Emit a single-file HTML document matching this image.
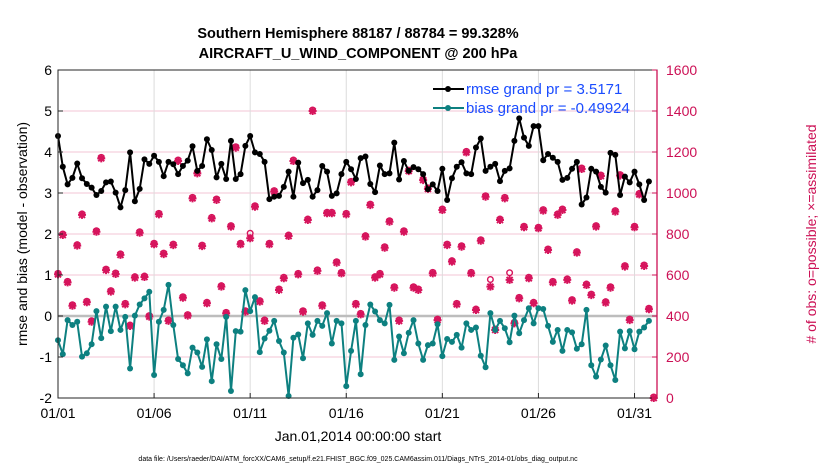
<!DOCTYPE html>
<html><head><meta charset="utf-8"><style>
body{margin:0;background:#fff;width:830px;height:470px;overflow:hidden;font-family:"Liberation Sans",sans-serif}
</style></head><body>
<svg id="chart" width="830" height="470" xmlns="http://www.w3.org/2000/svg" font-family="Liberation Sans, sans-serif">
<text x="358" y="38" text-anchor="middle" font-size="14.5" font-weight="bold">Southern Hemisphere 88187 / 88784 = 99.328%</text>
<text x="358" y="58" text-anchor="middle" font-size="14.5" font-weight="bold">AIRCRAFT_U_WIND_COMPONENT @ 200 hPa</text>
<g id="grid"></g>
<g id="marks"></g>
<g id="axes"></g>
<text transform="translate(27,234) rotate(-90)" text-anchor="middle" font-size="14">rmse and bias (model - observation)</text>
<text transform="translate(816,234) rotate(-90)" text-anchor="middle" font-size="14" fill="#cc1055"># of obs: o=possible; ×=assimilated</text>
<text x="358" y="441" text-anchor="middle" font-size="14">Jan.01,2014 00:00:00 start</text>
<text x="358" y="461" text-anchor="middle" font-size="7">data file: /Users/raeder/DAI/ATM_forcXX/CAM6_setup/f.e21.FHIST_BGC.f09_025.CAM6assim.011/Diags_NTrS_2014-01/obs_diag_output.nc</text>
<g>
<line x1="433" y1="89" x2="464" y2="89" stroke="#000" stroke-width="2"/><circle cx="448" cy="89" r="3" fill="#000"/>
<text x="466" y="94" font-size="15" fill="#1a4cff">rmse grand pr = 3.5171</text>
<line x1="433" y1="108" x2="464" y2="108" stroke="#0d8080" stroke-width="2"/><circle cx="448" cy="108" r="3" fill="#0d8080"/>
<text x="466" y="113" font-size="15" fill="#1a4cff">bias grand pr = -0.49924</text>
</g>
</svg>
<script>
const rmse=[4.39,3.64,3.21,3.37,3.72,3.36,3.22,3.13,2.95,3.05,3.26,3.28,3.01,2.65,3.07,3.99,2.80,3.10,3.82,3.71,3.91,3.76,3.41,3.76,3.70,3.46,3.66,3.79,4.14,3.54,3.66,4.31,4.05,3.38,3.71,3.34,4.27,3.34,3.46,4.15,4.39,3.99,3.95,3.76,2.85,2.91,2.93,3.15,3.52,2.91,3.74,3.24,3.32,2.91,3.07,3.66,3.52,2.93,2.99,3.46,3.76,3.58,3.34,3.85,3.89,3.22,3.02,3.67,3.46,3.48,4.23,3.33,3.78,3.54,3.63,3.58,3.46,3.09,3.21,3.05,3.59,2.83,3.36,3.64,3.75,3.48,3.46,4.11,4.33,3.54,3.64,3.71,3.29,3.54,3.60,4.27,4.82,4.35,4.15,4.63,4.63,3.80,3.95,3.86,3.76,3.32,3.37,3.59,3.76,2.72,2.89,3.59,3.52,3.15,3.01,3.98,3.93,2.95,3.40,3.26,3.52,3.21,2.83,3.28,null];
const bias=[-0.59,-0.93,-0.10,-0.22,-0.14,-0.99,-0.91,-0.69,0.12,-0.54,0.23,-0.37,0.23,-0.34,-0.02,-1.28,0.01,0.28,0.43,0.59,-1.44,-0.14,0.15,0.76,-0.22,-1.05,-1.20,-1.40,-0.77,-0.89,-1.24,-0.57,-1.59,-0.69,-1.05,-0.02,-1.83,-0.37,-0.38,0.63,0.12,0.46,-0.88,-0.55,-0.36,-0.12,-0.61,-0.89,-1.95,-0.53,-0.45,-1.03,-0.18,-0.46,-0.12,-0.24,0.07,-0.67,-0.12,-0.18,-1.71,-0.85,-0.12,-1.42,-0.22,0.28,0.11,-0.10,-0.18,0.27,-1.07,-0.50,-0.91,-0.41,-0.10,-0.67,-1.07,-0.71,-0.67,-0.20,-0.98,-0.56,-0.63,-0.46,-0.77,-0.18,-0.34,-0.28,-0.97,-1.25,0.07,-0.34,-0.12,-0.30,-0.64,0.01,-0.42,-0.10,0.19,-0.18,0.19,0.17,-0.24,-0.63,-0.34,-0.85,-0.34,-0.40,-0.80,-0.69,0.15,-1.20,-1.48,-1.06,-0.72,-1.20,-1.56,-0.38,-0.79,-0.37,-0.81,-0.38,-0.28,-0.12,null];
const nAssim=[603,795,564,450,743,893,467,372,811,1169,624,519,605,698,457,351,587,806,590,397,750,896,702,376,746,1156,489,402,974,1096,741,462,876,966,543,413,836,1221,750,421,779,933,470,376,750,1007,527,584,790,1156,603,421,868,1400,620,450,901,901,660,608,896,1052,457,408,787,941,587,603,733,860,538,376,811,1107,538,527,1063,1020,608,380,917,746,665,457,738,1198,608,429,767,982,543,332,868,974,576,364,486,833,584,462,828,914,722,564,893,917,576,475,709,1117,551,502,836,1083,465,538,909,1085,641,380,833,993,644,433,0];
const nPossDelta=[0,0,0,0,0,0,0,0,0,0,0,0,0,0,0,0,0,0,0,0,0,0,0,0,0,0,0,0,0,0,0,0,0,0,0,0,0,0,0,0,20,0,0,0,0,0,0,0,0,0,0,0,0,0,0,0,0,0,0,0,0,0,0,0,0,0,0,0,0,0,0,0,0,0,0,0,0,0,0,0,0,0,0,0,0,0,0,0,0,0,30,0,0,0,30,0,0,0,0,0,0,0,0,0,0,0,0,0,0,0,0,0,0,0,0,0,0,0,0,0,0,0,0,0,0];
const xTickLabels=["01/01","01/06","01/11","01/16","01/21","01/26","01/31"];
const xTickDays=[0,5,10,15,20,25,30];
const yLeftTicks=[-2,-1,0,1,2,3,4,5,6];
const yRightTicks=[0,200,400,600,800,1000,1200,1400,1600];
const X0=58,X1=657,Y0=70,Y1=398,DAYS=31.17;
const xs=d=>X0+(d/DAYS)*(X1-X0);
const yl=v=>Y1-(v+2)/8*(Y1-Y0);
const yr=v=>Y1-v/1600*(Y1-Y0);
const NS="http://www.w3.org/2000/svg";
function mk(parent,tag,attrs){const e=document.createElementNS(NS,tag);for(const k in attrs)e.setAttribute(k,attrs[k]);parent.appendChild(e);return e;}
const grid=document.getElementById('grid'),marks=document.getElementById('marks'),axes=document.getElementById('axes');
mk(grid,'rect',{x:X0,y:Y0,width:X1-X0,height:Y1-Y0,fill:'#fff'});
yLeftTicks.forEach(v=>{if(v>-2&&v<6&&v!==0){const l=mk(grid,'line',{x1:X0,x2:X1,y1:yl(v),y2:yl(v),stroke:'#f3c6d6','stroke-width':1});

}});
xTickDays.forEach(d=>{if(d>0){const l=mk(grid,'line',{x1:xs(d),x2:xs(d),y1:Y0,y2:Y1,stroke:'#dcdcdc','stroke-width':1});

}});
const zl=mk(grid,'line',{x1:X0,x2:X1,y1:yl(0),y2:yl(0),stroke:'#bdbdbd','stroke-width':2.5});


nAssim.forEach((v,i)=>{const x=xs(i/4),y=yr(v);const g=mk(marks,'g',{});


const yp=yr(v+nPossDelta[i]);
mk(g,'circle',{cx:x,cy:yp-1,r:2.8,fill:'none',stroke:'#d6145c','stroke-width':1.4});
const c='#d6145c';
mk(g,'path',{d:`M${x-4},${y}H${x+4}M${x},${y-4}V${y+4}M${x-3},${y-3}L${x+3},${y+3}M${x-3},${y+3}L${x+3},${y-3}`,stroke:c,'stroke-width':2});
mk(g,'circle',{cx:x,cy:y,r:2.5,fill:c});});
function series(arr,color,name){let d='';arr.forEach((v,i)=>{if(v===null)return;d+=(d?'L':'M')+xs(i/4).toFixed(1)+','+yl(v).toFixed(1);});
const p=mk(marks,'path',{d:d,fill:'none',stroke:color,'stroke-width':2,'stroke-linejoin':'round'});


arr.forEach((v,i)=>{if(v===null)return;const c=mk(marks,'circle',{cx:xs(i/4),cy:yl(v),r:3,fill:color});

});}
series(bias,'#0d8080','bias');
series(rmse,'#000','rmse');
mk(axes,'rect',{x:X0,y:Y0,width:X1-X0,height:Y1-Y0,fill:'none',stroke:'#262626','stroke-width':1});
mk(axes,'line',{x1:X1,x2:X1,y1:Y0,y2:Y1,stroke:'#cc1055','stroke-width':1.3});
yLeftTicks.forEach(v=>{mk(axes,'line',{x1:X0,x2:X0+5,y1:yl(v),y2:yl(v),stroke:'#262626'});
const t=mk(axes,'text',{x:X0-6,y:yl(v)+5,'text-anchor':'end','font-size':14});t.textContent=v;

});
yRightTicks.forEach(v=>{mk(axes,'line',{x1:X1-5,x2:X1,y1:yr(v),y2:yr(v),stroke:'#cc1055'});
const t=mk(axes,'text',{x:X1+9,y:yr(v)+5,'font-size':14,fill:'#cc1055'});t.textContent=v;

});
xTickDays.forEach((d,i)=>{mk(axes,'line',{x1:xs(d),x2:xs(d),y1:Y1,y2:Y1-5,stroke:'#262626'});
const t=mk(axes,'text',{x:xs(d),y:Y1+20,'text-anchor':'middle','font-size':14});t.textContent=xTickLabels[i];

});
</script>
</body></html>
